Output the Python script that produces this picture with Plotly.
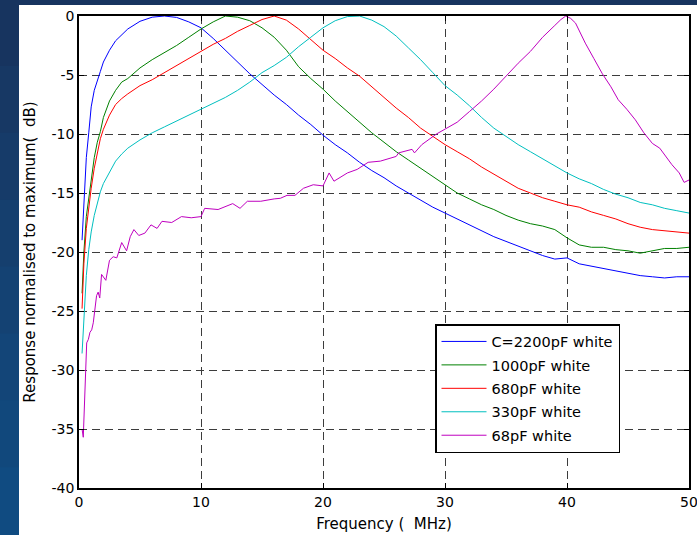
import plotly.graph_objects as go

# Frequency sample points (MHz) shared by the four larger capacitors
freq = [0.25, 0.4, 0.6, 0.8, 1.0, 1.25, 1.5, 1.75, 2, 2.5, 3, 3.5, 4,
        5, 6, 7, 8, 9, 10, 11, 12, 13, 14, 15, 16, 17, 18, 19, 20,
        21, 22, 23, 24, 25, 26, 27, 28, 29, 30, 31, 32, 33, 34, 35,
        36, 37, 38, 39, 40, 41, 42, 43, 44, 45, 46, 47, 48, 49, 50]

# Normalised response (dB)
resp_2200 = [-19.0, -15.8, -12.0, -9.9, -7.7, -6.3, -5.4, -4.7, -3.9, -2.9, -2.1, -1.6, -1.1,
             -0.45, -0.1, 0.0, -0.12, -0.5, -1.0, -1.9, -2.9, -3.9, -4.9, -5.8, -6.7, -7.5, -8.4, -9.2, -10.1,
             -10.9, -11.6, -12.4, -13.1, -13.7, -14.4, -15.0, -15.6, -16.2, -16.7, -17.2, -17.7, -18.2, -18.7, -19.1,
             -19.5, -19.9, -20.3, -20.6, -20.5, -21.0, -21.2, -21.4, -21.6, -21.8, -22.0, -22.1, -22.2, -22.1, -22.1]

resp_1000 = [-23.5, -20.0, -17.0, -15.3, -13.6, -12.0, -10.7, -9.8, -8.6, -7.2, -6.3, -5.6, -5.3,
             -4.4, -3.7, -3.1, -2.5, -1.8, -1.1, -0.5, 0.0, -0.1, -0.4, -1.0, -1.8, -2.9, -4.3, -5.3, -6.2,
             -7.2, -8.1, -9.0, -9.9, -10.7, -11.5, -12.2, -12.9, -13.6, -14.3, -15.0, -15.5, -16.0, -16.4, -16.9,
             -17.3, -17.6, -17.8, -18.1, -18.8, -19.4, -19.6, -19.6, -19.8, -19.9, -20.1, -19.9, -19.7, -19.7, -19.6]

resp_680 = [-24.8, -21.0, -18.0, -16.0, -14.6, -12.9, -11.5, -10.4, -9.6, -8.4, -7.5, -7.0, -6.6,
            -5.9, -5.4, -4.8, -4.2, -3.6, -3.0, -2.4, -1.9, -1.3, -0.8, -0.3, 0.0, -0.35, -1.1, -2.0, -2.9,
            -3.6, -4.4, -5.1, -6.0, -6.9, -7.8, -8.6, -9.5, -10.2, -10.9, -11.5, -12.1, -12.8, -13.4, -14.0,
            -14.6, -15.0, -15.4, -15.7, -16.0, -16.2, -16.6, -16.9, -17.2, -17.6, -17.9, -18.1, -18.2, -18.3, -18.4]

resp_330 = [-28.6, -25.5, -22.0, -19.8, -18.3, -16.9, -15.8, -14.9, -14.2, -13.2, -12.3, -11.7, -11.2,
            -10.5, -9.9, -9.4, -8.9, -8.4, -7.9, -7.4, -6.9, -6.3, -5.6, -4.8, -4.2, -3.5, -2.6, -1.8, -1.0,
            -0.4, -0.05, 0.0, -0.35, -0.9, -1.7, -2.7, -3.7, -4.8, -5.9, -6.7, -7.6, -8.6, -9.5, -10.2,
            -10.9, -11.5, -12.1, -12.7, -13.3, -13.8, -14.2, -14.7, -15.1, -15.4, -15.8, -16.0, -16.3, -16.5, -16.7]

# The 68pF trace is noisier, so it carries its own, denser sample points
freq_68 = [0.25, 0.35, 0.63, 0.77, 0.9, 1.04, 1.17, 1.3, 1.44, 1.57, 1.7, 1.85, 2.1, 2.2, 2.5,
           2.8, 3.1, 3.5, 3.9, 4.2, 4.5, 4.9, 5.4, 5.9, 6.4, 6.8, 7.6, 8.4, 9.2, 10.0, 10.3,
           11.4, 12.6, 13.2, 13.8, 14.9, 16.0, 16.5, 17.05, 17.7, 18.4, 19.2, 20.0, 20.5, 20.9,
           22.0, 22.8, 23.7, 24.7, 26.0, 26.2, 27.3, 27.5, 28.1, 29.3, 30.0, 31.0, 32.0, 33.0,
           34.0, 35.0, 36.0, 37.0, 38.0, 39.0, 39.5, 39.9, 40.3, 40.7, 41.5, 42.2, 42.9, 43.6,
           44.2, 44.9, 45.6, 46.3, 47.0, 47.6, 48.1, 48.6, 49.2, 49.6, 50.0]
resp_68 = [-35.0, -35.7, -27.7, -27.4, -26.8, -26.6, -26.0, -24.8, -23.7, -23.4, -23.9, -21.9, -22.3, -22.4, -20.7,
           -20.4, -20.5, -19.2, -19.9, -18.7, -18.1, -18.6, -18.4, -17.7, -18.0, -17.4, -17.5, -17.0, -17.1, -17.0, -16.3,
           -16.4, -15.9, -16.3, -15.7, -15.7, -15.5, -15.45, -15.2, -15.2, -14.6, -14.3, -14.4, -13.3, -14.0,
           -13.3, -13.0, -12.4, -12.3, -11.9, -11.6, -11.3, -11.6, -10.9, -10.0, -9.6, -9.0, -8.1, -7.2,
           -6.2, -5.1, -4.0, -3.0, -1.8, -0.8, -0.3, 0.0, -0.2, -0.6, -2.3, -3.6, -4.9, -6.0,
           -7.1, -7.9, -8.8, -9.9, -10.8, -11.2, -11.9, -12.6, -13.3, -14.1, -13.9]

series_names = ["C=2200pF white", "1000pF white", "680pF white", "330pF white", "68pF white"]
series_colors = ["#0000ff", "#008000", "#ff0000", "#00bfbf", "#bf00bf"]

x_ticks = [0, 10, 20, 30, 40, 50]
x_ticktext = ["0", "10", "20", "30", "40", "50"]
y_ticks = [0, -5, -10, -15, -20, -25, -30, -35, -40]
y_ticktext = ["0", "-5", "-10", "-15", "-20", "-25", "-30", "-35", "-40"]

FONT = "DejaVu Sans"

fig = go.Figure()
traces = [(freq, resp_2200), (freq, resp_1000), (freq, resp_680), (freq, resp_330), (freq_68, resp_68)]
for i, ((fx, fy), name, col) in enumerate(zip(traces, series_names, series_colors)):
    fig.add_trace(go.Scatter(x=fx, y=fy, mode="lines", name=name, legendgroup=f"g{i}",
                             line=dict(color=col, width=1)))

W, H = 697, 535
ML, MR, MT, MB = 79, 8, 16, 47
PW, PH = W - ML - MR, H - MT - MB


def px_to_paper_x(px):
    return (px - ML) / PW


def px_to_paper_y(py):
    return (H - MB - py) / PH


shapes = []
# white slide panel
shapes.append(dict(type="rect", xref="paper", yref="paper", layer="below",
                   x0=px_to_paper_x(19), x1=px_to_paper_x(W + 2),
                   y0=px_to_paper_y(H + 2), y1=px_to_paper_y(5),
                   fillcolor="white", line=dict(width=0)))
# blue side band, darker at the top
band_colors = ["#17345f", "#173864", "#163b69", "#153f6e", "#144273", "#134578", "#11487c", "#104b81"]
n = len(band_colors)
for k, c in enumerate(band_colors):
    shapes.append(dict(type="rect", xref="paper", yref="paper", layer="below",
                       x0=px_to_paper_x(-2), x1=px_to_paper_x(19),
                       y0=px_to_paper_y(H * (k + 1) / n + 1), y1=px_to_paper_y(H * k / n - 1),
                       fillcolor=c, line=dict(width=0)))

axis_common = dict(showline=True, linecolor="black", linewidth=1.5, mirror="ticks",
                   ticks="inside", ticklen=5, tickcolor="black", tickwidth=1,
                   showgrid=True, gridcolor="#3c3c3c", gridwidth=1.3, griddash="8px,5px",
                   zeroline=False, automargin=False, ticklabeloverflow="allow",
                   tickfont=dict(family=FONT, size=14, color="black"))

fig.update_layout(
    width=W, height=H,
    margin=dict(l=ML, r=MR, t=MT, b=MB, autoexpand=False),
    paper_bgcolor="#17345f",
    plot_bgcolor="white",
    shapes=shapes,
    showlegend=True,
    legend=dict(x=px_to_paper_x(435), y=px_to_paper_y(324), xanchor="left", yanchor="top",
                bgcolor="white", bordercolor="black", borderwidth=1.5,
                font=dict(family=FONT, size=14.5, color="black"),
                tracegroupgap=1.6, itemwidth=45),
    xaxis=dict(range=[0, 50], tickvals=x_ticks, ticktext=x_ticktext,
               title=dict(text="Frequency (  MHz)", font=dict(family=FONT, size=15, color="black"), standoff=10),
               **axis_common),
    yaxis=dict(range=[-40, 0], tickvals=y_ticks, ticktext=y_ticktext,
               title=dict(text="Response normalised to maximum(  dB)", font=dict(family=FONT, size=15, color="black"), standoff=12),
               **axis_common),
)

fig.write_html("out.html")
